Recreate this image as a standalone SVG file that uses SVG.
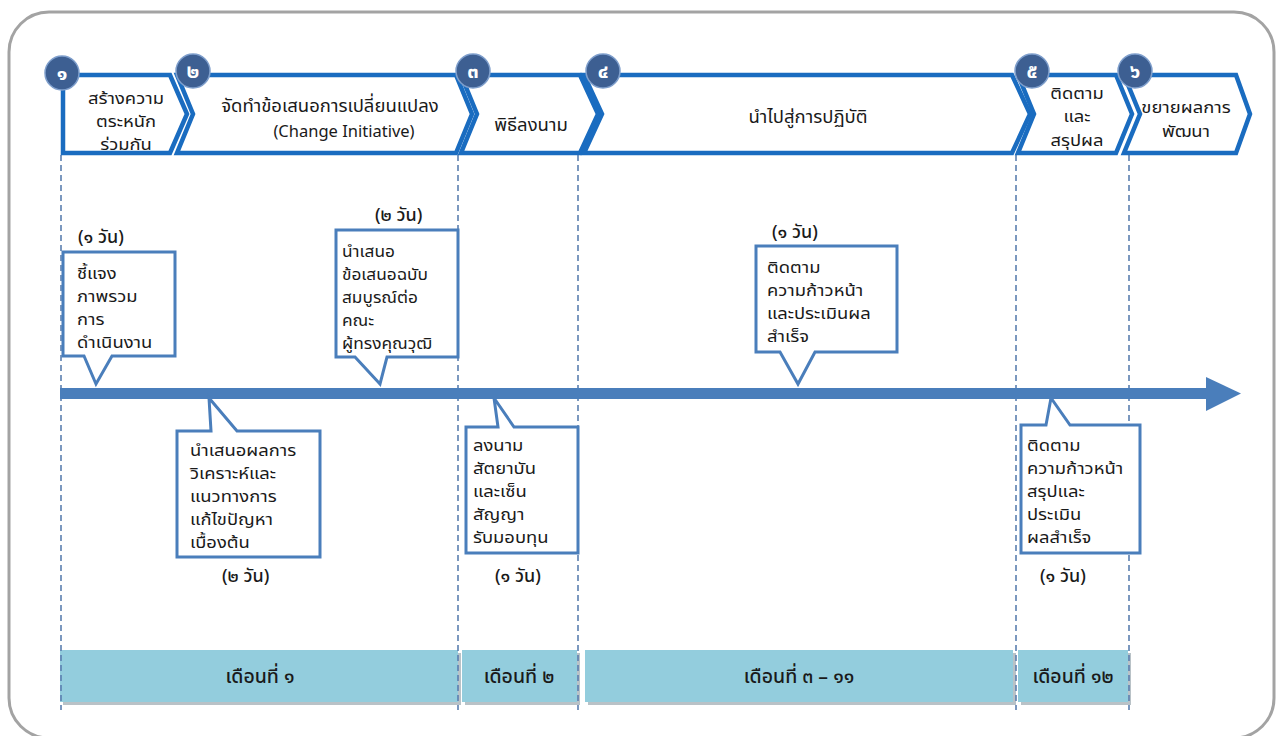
<svg xmlns="http://www.w3.org/2000/svg" width="1277" height="736" viewBox="0 0 1277 736">
<style>
.chev{fill:#fff;stroke:#1a6cc0;stroke-width:4.5;stroke-linejoin:miter}
.num{fill:#3d5f92;stroke:#7f9fcc;stroke-width:1.5}
.numt{fill:#fff;font-family:Tahoma,"Noto Sans Thai","Noto Sans",sans-serif;font-size:20px;font-weight:bold;text-anchor:middle}
.ht{fill:#1a1a1a;font-family:Tahoma,"Noto Sans Thai","Noto Sans",sans-serif;font-size:16px;text-anchor:middle}
.hs{fill:#1a1a1a;font-family:Tahoma,"Noto Sans Thai","Noto Sans",sans-serif;font-size:18.5px;text-anchor:middle}
.lt{fill:#1a1a1a;font-family:Tahoma,"Noto Sans","DejaVu Sans",sans-serif;font-size:16.5px;text-anchor:middle}
.ct{fill:#1a1a1a;font-family:Tahoma,"Noto Sans Thai","Noto Sans",sans-serif;font-size:16px}
.dt{fill:#1a1a1a;font-family:Tahoma,"Noto Sans Thai","Noto Sans",sans-serif;font-size:18px;font-weight:500}
.call{fill:#fff;stroke:#4a7ebb;stroke-width:3;stroke-linejoin:miter}
.vd{stroke:#5b7fb0;stroke-width:1.6;stroke-dasharray:6 4;fill:none}
.bar{fill:#93cddd}
.barsh{fill:#8a9aa2;opacity:0.6}
.bt{fill:#1a1a1a;font-family:Tahoma,"Noto Sans Thai","Noto Sans",sans-serif;font-size:19.5px;font-weight:500;text-anchor:middle}
</style>
<rect x="9" y="12" width="1265" height="726" rx="40" ry="40" fill="#fff" stroke="#a3a3a3" stroke-width="3"/>

<g id="months">
<rect class="barsh" x="63" y="653" width="398" height="52"/>
<rect class="bar" x="60" y="650" width="398" height="52"/>
<text class="bt" x="260" y="683">เดือนที่ ๑</text>
<rect class="barsh" x="465" y="653" width="115" height="52"/>
<rect class="bar" x="462" y="650" width="115" height="52"/>
<text class="bt" x="519" y="683">เดือนที่ ๒</text>
<rect class="barsh" x="588" y="653" width="428" height="52"/>
<rect class="bar" x="585" y="650" width="428" height="52"/>
<text class="bt" x="799" y="683">เดือนที่ ๓ – ๑๑</text>
<rect class="barsh" x="1021" y="653" width="110" height="52"/>
<rect class="bar" x="1018" y="650" width="110" height="52"/>
<text class="bt" x="1073" y="683">เดือนที่ ๑๒</text>
</g>

<g id="connectors">
<line class="vd" x1="61" y1="155" x2="61" y2="710"/>
<line class="vd" x1="458" y1="155" x2="458" y2="710"/>
<line class="vd" x1="578" y1="155" x2="578" y2="710"/>
<line class="vd" x1="1016" y1="155" x2="1016" y2="710"/>
<line class="vd" x1="1129" y1="155" x2="1129" y2="710"/>
<rect x="60" y="388" width="1150" height="11" fill="#4a7ebb"/>
<polygon points="1206,377 1241,393.5 1206,411" fill="#4a7ebb"/>
</g>

<g id="step1">
<polygon class="chev" points="63,75 170,75 187,114 170,153 63,153"/>
<circle class="num" cx="62" cy="73" r="17"/>
<text class="numt" x="62" y="80">๑</text>
<g transform="matrix(1.15,0,0,1,-18.9,0)">
<text class="ht" x="126" y="104">สร้างความ</text>
<text class="ht" x="126" y="127">ตระหนัก</text>
<text class="ht" x="126" y="150">ร่วมกัน</text>
</g>
</g>
<g id="step2">
<polygon class="chev" points="177,75 456,75 472,114 456,153 177,153 193,114"/>
<circle class="num" cx="193" cy="71" r="17"/>
<text class="numt" x="193" y="78">๒</text>
<text class="hs" x="330" y="112">จัดทำข้อเสนอการเปลี่ยนแปลง</text>
<text class="lt" x="344" y="137">(Change Initiative)</text>
</g>
<g id="step3">
<polygon class="chev" points="461,75 580,75 598,114 580,153 461,153 477,114"/>
<circle class="num" cx="473" cy="71" r="17"/>
<text class="numt" x="473" y="78">๓</text>
<text class="hs" x="531" y="131">พิธีลงนาม</text>
</g>
<g id="step4">
<polygon class="chev" points="584,75 1012,75 1030,114 1012,153 584,153 602,114"/>
<circle class="num" cx="603" cy="71" r="17"/>
<text class="numt" x="603" y="78">๔</text>
<text class="hs" x="808" y="123">นำไปสู่การปฏิบัติ</text>
</g>
<g id="step5">
<polygon class="chev" points="1018,75 1116,75 1132,114 1116,153 1018,153 1034,114"/>
<circle class="num" cx="1032" cy="71" r="17"/>
<text class="numt" x="1032" y="78">๕</text>
<g transform="matrix(1.15,0,0,1,-161.55,0)">
<text class="ht" x="1077" y="99">ติดตาม</text>
<text class="ht" x="1077" y="122">และ</text>
<text class="ht" x="1077" y="146">สรุปผล</text>
</g>
</g>
<g id="step6">
<polygon class="chev" points="1124,75 1236,75 1250,114 1236,153 1124,153 1140,114"/>
<circle class="num" cx="1135" cy="71" r="17"/>
<text class="numt" x="1135" y="78">๖</text>
<g transform="matrix(1.15,0,0,1,-177.9,0)">
<text class="ht" x="1186" y="113">ขยายผลการ</text>
<text class="ht" x="1186" y="137">พัฒนา</text>
</g>
</g>

<g id="callout1">
<text class="dt" x="78" y="243">(๑ วัน)</text>
<polygon class="call" points="63,252 175,252 175,356 112,356 96,384 84,356 63,356"/>
<g transform="matrix(1.15,0,0,1,-11.55,0)">
<text class="ct" x="77" y="279">ชี้แจง</text>
<text class="ct" x="77" y="302">ภาพรวม</text>
<text class="ct" x="77" y="325">การ</text>
<text class="ct" x="77" y="348">ดำเนินงาน</text>
</g>
</g>
<g id="callout2">
<text class="dt" x="222" y="582">(๒ วัน)</text>
<polygon class="call" points="177,431 211,431 209,398 237,431 320,431 320,557 177,557"/>
<g transform="matrix(1.15,0,0,1,-28.5,0)">
<text class="ct" x="190" y="456">นำเสนอผลการ</text>
<text class="ct" x="190" y="479">วิเคราะห์และ</text>
<text class="ct" x="190" y="502">แนวทางการ</text>
<text class="ct" x="190" y="525">แก้ไขปัญหา</text>
<text class="ct" x="190" y="548">เบื้องต้น</text>
</g>
</g>
<g id="callout3">
<text class="dt" x="375" y="221">(๒ วัน)</text>
<polygon class="call" points="336,230 458,230 458,357 387,357 380,384 355,357 336,357"/>
<g transform="matrix(1.08,0,0,1,-27.36,0)">
<text class="ct" x="342" y="257">นำเสนอ</text>
<text class="ct" x="342" y="280">ข้อเสนอฉบับ</text>
<text class="ct" x="342" y="303">สมบูรณ์ต่อ</text>
<text class="ct" x="342" y="326">คณะ</text>
<text class="ct" x="342" y="349">ผู้ทรงคุณวุฒิ</text>
</g>
</g>
<g id="callout4">
<text class="dt" x="495" y="582">(๑ วัน)</text>
<polygon class="call" points="466,427 498,427 494,398 514,427 578,427 578,553 466,553"/>
<g transform="matrix(1.15,0,0,1,-70.95,0)">
<text class="ct" x="473" y="451">ลงนาม</text>
<text class="ct" x="473" y="474">สัตยาบัน</text>
<text class="ct" x="473" y="497">และเซ็น</text>
<text class="ct" x="473" y="520">สัญญา</text>
<text class="ct" x="473" y="543">รับมอบทุน</text>
</g>
</g>
<g id="callout5">
<text class="dt" x="772" y="238">(๑ วัน)</text>
<polygon class="call" points="756,246 897,246 897,352 815,352 798,384 780,352 756,352"/>
<g transform="matrix(1.15,0,0,1,-115.05,0)">
<text class="ct" x="767" y="273">ติดตาม</text>
<text class="ct" x="767" y="296">ความก้าวหน้า</text>
<text class="ct" x="767" y="319">และประเมินผล</text>
<text class="ct" x="767" y="342">สำเร็จ</text>
</g>
</g>
<g id="callout6">
<text class="dt" x="1040" y="582">(๑ วัน)</text>
<polygon class="call" points="1021,425 1046,425 1051,398 1070,425 1140,425 1140,553 1021,553"/>
<g transform="matrix(1.15,0,0,1,-154.05,0)">
<text class="ct" x="1027" y="451">ติดตาม</text>
<text class="ct" x="1027" y="474">ความก้าวหน้า</text>
<text class="ct" x="1027" y="497">สรุปและ</text>
<text class="ct" x="1027" y="520">ประเมิน</text>
<text class="ct" x="1027" y="543">ผลสำเร็จ</text>
</g>
</g>
</svg>
